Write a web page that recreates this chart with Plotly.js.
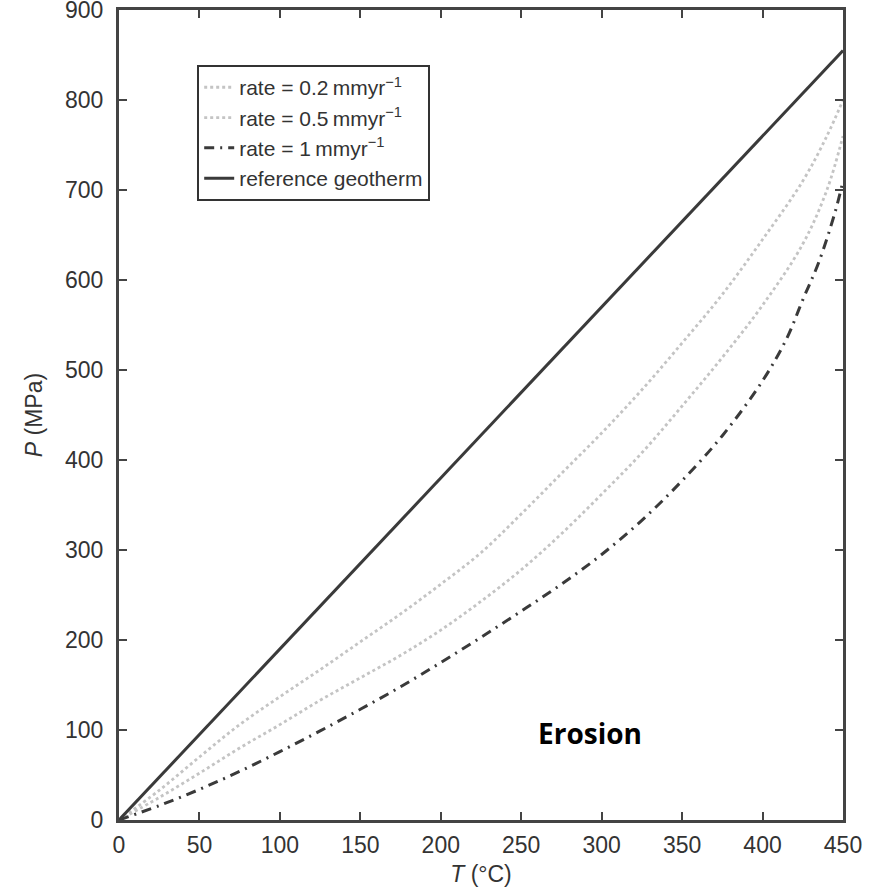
<!DOCTYPE html>
<html>
<head>
<meta charset="utf-8">
<script src="https://cdn.plot.ly/plotly-3.0.1.min.js"></script>
<style>html,body{margin:0;padding:0;background:#fff;}#chart{width:881px;height:888px;}</style>
</head>
<body>
<div id="chart"></div>
<script>
// Temperature grids (°C)
const tRate02 = [0,25,50,75,100,125,150,175,200,225,250,275,300,325,350,375,400,425,440,450];
const pRate02 = [0,33,70,106,137,167,198,229,262,297,340,385,430,478,530,584,645,710,760,800];

const tRate05 = [0,25,50,75,100,125,150,175,200,225,250,275,300,325,350,375,400,425,440,450];
const pRate05 = [0,25,52,80,106,133,158,183,211,243,278,318,362,408,460,514,572,640,700,760];

const tRate1 = [0,25,50,75,100,125,150,175,200,225,250,275,300,325,350,375,400,415,425,435,445,450];
const pRate1 = [0,16,34,54,76,99,123,148,175,203,232,262,295,333,377,427,488,535,578,620,675,710];

const tGeo = [0,450];
const pGeo = [0,855];

const legendNames = [
  'rate = 0.2\u2009mmyr<sup>−1</sup>',
  'rate = 0.5\u2009mmyr<sup>−1</sup>',
  'rate = 1\u2009mmyr<sup>−1</sup>',
  'reference geotherm'
];
const xTicks = [0,50,100,150,200,250,300,350,400,450];
const yTicks = [0,100,200,300,400,500,600,700,800,900];

const traces = [
  {x:tRate02, y:pRate02, name:legendNames[0], mode:'lines',
   line:{color:'#c4c4c4', width:2.8, dash:'dot', shape:'spline'}},
  {x:tRate05, y:pRate05, name:legendNames[1], mode:'lines',
   line:{color:'#c4c4c4', width:2.8, dash:'dot', shape:'spline'}},
  {x:tRate1, y:pRate1, name:legendNames[2], mode:'lines',
   line:{color:'#3a3a3a', width:3, dash:'10px,6px,2px,6px', shape:'spline'}},
  {x:tGeo, y:pGeo, name:legendNames[3], mode:'lines',
   line:{color:'#3a3a3a', width:3}}
];

const axisCommon = {
  showgrid:false, zeroline:false, showline:true, linecolor:'#444', linewidth:3,
  mirror:'allticks', ticks:'inside', ticklen:8, tickwidth:2, tickcolor:'#444',
  ticklabeloverflow:'allow',
  tickfont:{family:'Liberation Sans, Arial, sans-serif', size:23, color:'#333'}
};

const layout = {
  width:881, height:888,
  margin:{l:119, r:38, t:10, b:68},
  paper_bgcolor:'#fff', plot_bgcolor:'#fff',
  showlegend:true,
  legend:{x:0.108, y:0.932, xanchor:'left', yanchor:'top',
    bgcolor:'#fff', bordercolor:'#333', borderwidth:2,
    font:{family:'Liberation Sans, Arial, sans-serif', size:21, color:'#333'},
    tracegroupgap:0},
  xaxis:Object.assign({}, axisCommon, {range:[0,450], tickvals:xTicks, ticklabelstandoff:2,
    title:{text:'<i>T</i> (°C)', standoff:10, font:{family:'Liberation Sans, Arial, sans-serif', size:23, color:'#333'}}}),
  yaxis:Object.assign({}, axisCommon, {range:[0,900], tickvals:yTicks, ticklabelstandoff:8,
    title:{text:'<i>P</i> (MPa)', standoff:16, font:{family:'Liberation Sans, Arial, sans-serif', size:23, color:'#333'}}}),
  annotations:[{x:293, y:97, xref:'x', yref:'y', text:'<b>Erosion</b>', showarrow:false,
    font:{family:'Open Sans, Noto Sans, sans-serif', size:28, color:'#000'}}]
};

Plotly.newPlot('chart', traces, layout, {displayModeBar:false, staticPlot:true});
</script>
</body>
</html>
